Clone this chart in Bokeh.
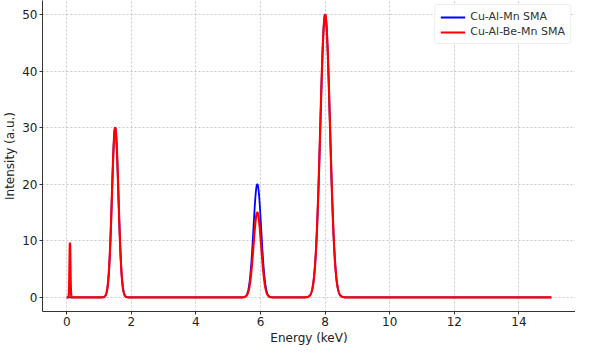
import numpy as np
from bokeh.plotting import figure
from bokeh.models import Range1d, Legend, LegendItem
from bokeh.embed import file_html
from bokeh.resources import INLINE

# Peak parameters (energy keV, height a.u., width sigma keV)
series_names = ["Cu-Al-Mn SMA", "Cu-Al-Be-Mn SMA"]
series_colors = ["#0000ff", "#ff0000"]

cualmn_centers = [1.5, 5.9, 8.0]
cualmn_heights = [30.0, 20.0, 50.0]
cualmn_sigmas = [0.10, 0.12, 0.15]

cualbemn_centers = [0.1, 1.5, 5.9, 8.0]
cualbemn_heights = [9.7, 30.0, 15.0, 50.0]
cualbemn_sigmas = [0.015, 0.10, 0.12, 0.15]

energy_min, energy_max = 0.0, 15.0
x_ticks = [0, 2, 4, 6, 8, 10, 12, 14]
y_ticks = [0, 10, 20, 30, 40, 50]

energy = np.linspace(energy_min, energy_max, 3001)


def spectrum(centers, heights, sigmas):
    y = np.zeros_like(energy)
    for c, h, s in zip(centers, heights, sigmas):
        y += h * np.exp(-0.5 * ((energy - c) / s) ** 2)
    return y


FONT = "DejaVu Sans"

p = figure(width=575, height=347, output_backend="svg", toolbar_location=None,
           x_range=Range1d(-0.75, 15.75), y_range=Range1d(-2.5, 52.5),
           min_border_left=0, min_border_right=0, min_border_top=0, min_border_bottom=0)
p.outline_line_color = None
p.background_fill_color = "white"
p.border_fill_color = "white"

r1 = p.line(energy, spectrum(cualmn_centers, cualmn_heights, cualmn_sigmas),
            line_color=series_colors[0], line_width=1.8)
r2 = p.line(energy, spectrum(cualbemn_centers, cualbemn_heights, cualbemn_sigmas),
            line_color=series_colors[1], line_width=2.2)

p.xaxis.ticker = x_ticks
p.yaxis.ticker = y_ticks
p.xaxis.axis_label = "Energy (keV)"
p.yaxis.axis_label = "Intensity (a.u.)"
for ax in (p.xaxis, p.yaxis):
    ax.axis_label_text_font = FONT
    ax.axis_label_text_font_style = "normal"
    ax.axis_label_text_font_size = "12px"
    ax.axis_label_text_color = "#222222"
    ax.major_label_text_font = FONT
    ax.major_label_text_font_size = "12px"
    ax.major_label_text_color = "#222222"
    ax.axis_line_color = "#333333"
    ax.axis_line_width = 1
    ax.major_tick_line_color = "#333333"
    ax.major_tick_out = 3
    ax.major_tick_in = 0
    ax.minor_tick_line_color = None
    ax.major_label_standoff = 2
    ax.axis_label_standoff = 2

for g in (p.xgrid, p.ygrid):
    g.grid_line_color = "#bbbbbb"
    g.grid_line_dash = "2 2"
    g.grid_line_width = 0.8

legend = Legend(items=[LegendItem(label=series_names[0], renderers=[r1]),
                       LegendItem(label=series_names[1], renderers=[r2])],
                location="top_right")
legend.label_text_font = FONT
legend.label_text_font_size = "11px"
legend.label_text_color = "#333333"
legend.border_line_color = "#dddddd"
legend.border_line_width = 1
legend.border_radius = 3
legend.background_fill_alpha = 0.9
legend.glyph_width = 25
legend.glyph_height = 12
legend.label_height = 12
legend.spacing = 2
legend.padding = 5
legend.margin = 4
p.add_layout(legend)

open("out.html", "w").write(file_html(p, INLINE))
